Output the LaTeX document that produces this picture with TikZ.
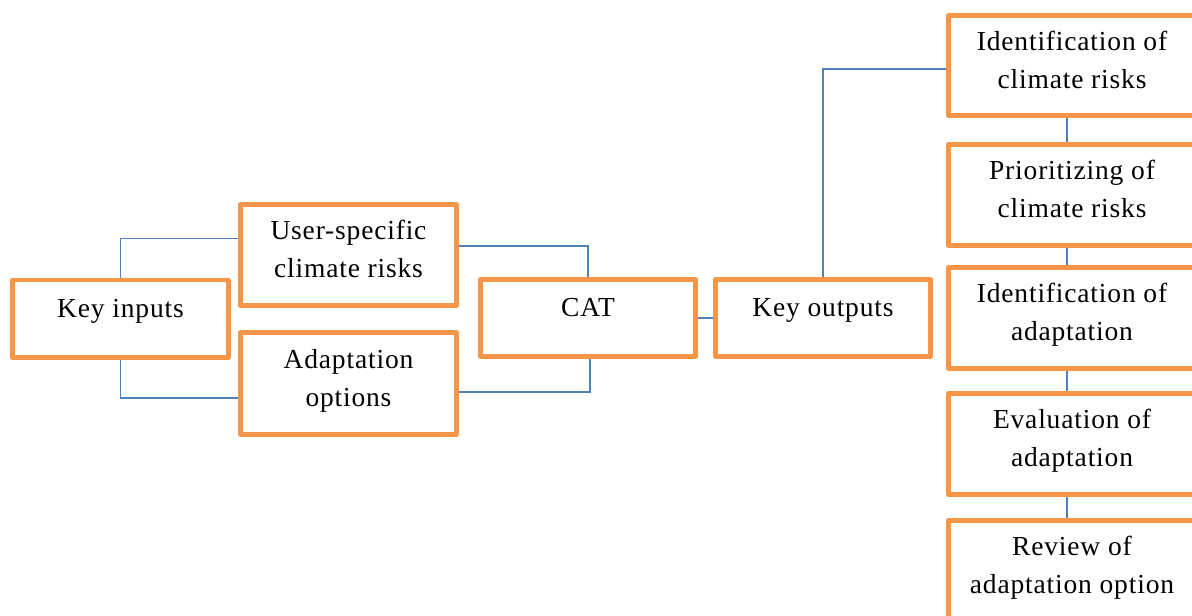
\documentclass[tikz,border=0pt]{standalone}
\usepackage{fontspec}
\setmainfont{Liberation Serif}[LetterSpace=3]
\usetikzlibrary{calc}
\definecolor{boxorange}{HTML}{F79646}
\definecolor{linkblue}{HTML}{4F81BD}
\begin{document}
\begin{tikzpicture}[x=1pt,y=-1pt,
  box/.style={draw=boxorange, line width=4.5pt, fill=white, rectangle,
              inner sep=0pt, line join=round},
  txt/.style={anchor=north, inner sep=0pt, align=center,
              font=\fontsize{27.5}{38}\selectfont},
  link/.style={draw=linkblue, line width=1.5pt}]
\useasboundingbox (0,0) rectangle (1192,616);
\clip (0,0) rectangle (1192,616);

% left part: inputs, the two input kinds, the tool and its outputs
\node[box, minimum width=216, minimum height=77.5] (ki) at (120.5,318.75) {};
\node[box, minimum width=216, minimum height=101] (us) at (348.5,255) {};
\node[box, minimum width=216, minimum height=102] (ad) at (348.5,383.5) {};
\node[box, minimum width=215, minimum height=77] (cat) at (588,318) {};
\node[box, minimum width=215, minimum height=77] (ko) at (823,318) {};

% right column of outputs
\node[box, minimum width=247, minimum height=100] (r1) at (1072,65.5) {};
\node[box, minimum width=247, minimum height=101] (r2) at (1072,195) {};
\node[box, minimum width=247, minimum height=101] (r3) at (1072,318) {};
\node[box, minimum width=247, minimum height=101] (r4) at (1072,444) {};
\node[box, minimum width=247, minimum height=101] (r5) at (1072,571) {};

% labels
\node[txt] (ki-t) at ([yshift=-14.25pt]ki.north) {\rule{0pt}{25pt}Key inputs};
\node[txt] (us-t) at ([yshift=-12pt]us.north) {\rule{0pt}{25pt}User-specific\\climate risks};
\node[txt] (ad-t) at ([yshift=-13.25pt]ad.north) {\rule{0pt}{25pt}Adaptation\\options};
\node[txt] (cat-t) at ([yshift=-14.25pt]cat.north) {\rule{0pt}{25pt}CAT};
\node[txt] (ko-t) at ([yshift=-14.25pt]ko.north) {\rule{0pt}{25pt}Key outputs};
\node[txt] (r1-t) at ([yshift=-11.75pt]r1.north) {\rule{0pt}{25pt}Identification of\\climate risks};
\node[txt] (r2-t) at ([yshift=-11.75pt]r2.north) {\rule{0pt}{25pt}Prioritizing of\\climate risks};
\node[txt] (r3-t) at ([yshift=-11.75pt]r3.north) {\rule{0pt}{25pt}Identification of\\adaptation};
\node[txt] (r4-t) at ([yshift=-11.75pt]r4.north) {\rule{0pt}{25pt}Evaluation of\\adaptation};
\node[txt] (r5-t) at ([yshift=-11.75pt]r5.north) {\rule{0pt}{25pt}Review of\\adaptation option};

% connectors
\draw[link] (ki.north) |- ([yshift=16.5pt]us.west);
\draw[link] (ki.south) |- ([yshift=-14.5pt]ad.west);
\draw[link] ([yshift=9pt]us.east) -| (cat.north);
\draw[link] ([yshift=-8.5pt]ad.east) -| ([xshift=2pt]cat.south);
\draw[link] (cat.east) -- (ko.west);
\draw[link] (ko.north) |- ([yshift=-3.5pt]r1.west);
\foreach \a/\b in {r1/r2,r2/r3,r3/r4,r4/r5}
  \draw[link] ([xshift=-5pt]\a.south) -- ([xshift=-5pt]\b.north);
\end{tikzpicture}
\end{document}
